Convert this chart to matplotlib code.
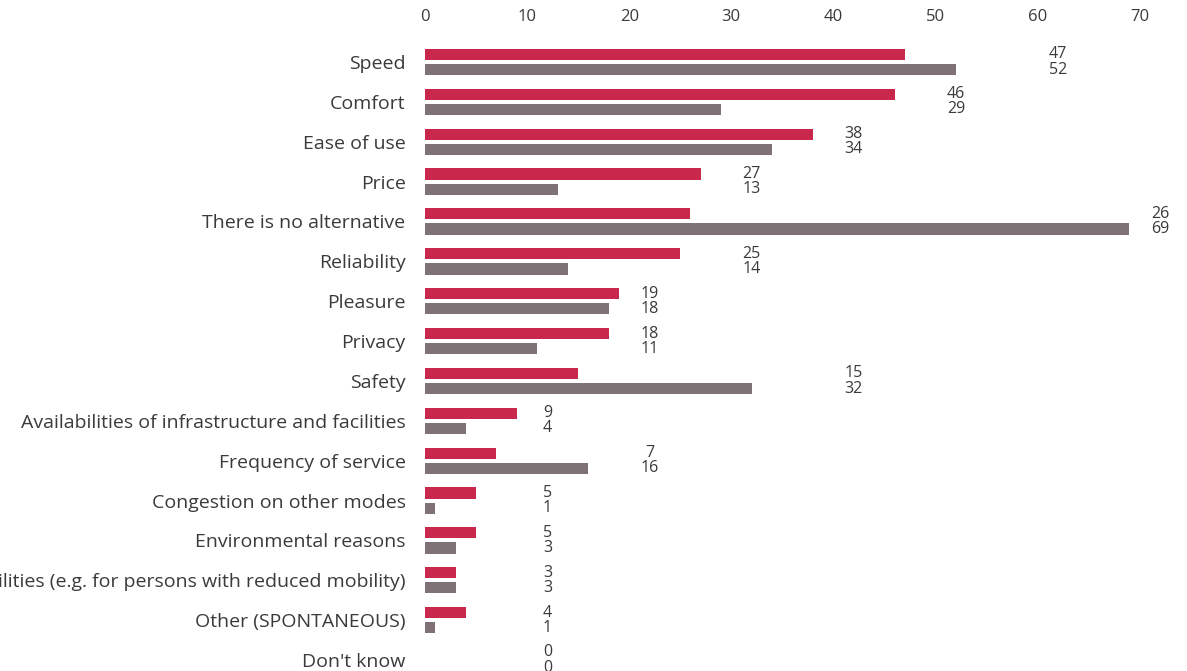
import numpy as np
import matplotlib.pyplot as plt

plt.rcParams['font.family'] = ['Open Sans', 'DejaVu Sans']

categories = [
    'Speed', 'Comfort', 'Ease of use', 'Price', 'There is no alternative',
    'Reliability', 'Pleasure', 'Privacy', 'Safety',
    'Availabilities of infrastructure and facilities', 'Frequency of service',
    'Congestion on other modes', 'Environmental reasons',
    'Accessibility of facilities (e.g. for persons with reduced mobility)',
    'Other (SPONTANEOUS)', "Don't know",
]
red_values = [47, 46, 38, 27, 26, 25, 19, 18, 15, 9, 7, 5, 5, 3, 4, 0]
gray_values = [52, 29, 34, 13, 69, 14, 18, 11, 32, 4, 16, 1, 3, 3, 1, 0]
ticks = [0, 10, 20, 30, 40, 50, 60, 70]

red = '#C9284C'
gray = '#7E7276'
text_color = '#3a3a3a'

fig = plt.figure(figsize=(11.87, 6.71), dpi=100)
ax = fig.add_axes([425 / 1187, 0, 1 - 425 / 1187, 1 - 40 / 671])

y = np.arange(len(categories))
h = 0.28
off = 0.19
ax.barh(y - off, red_values, height=h, color=red)
ax.barh(y + off, gray_values, height=h, color=gray)

# value labels sit at the next round ten + 2
for i, (r, g) in enumerate(zip(red_values, gray_values)):
    xpos = (max(r, g) // 10) * 10 + 12
    ax.text(xpos, i - off, str(r), ha='center', va='center',
            fontsize=11.5, color=text_color)
    ax.text(xpos, i + off, str(g), ha='center', va='center',
            fontsize=11.5, color=text_color)

ax.set_xlim(0, (1187 - 425) / 10.21)
ax.set_ylim((671 - 62) / 39.87, -(62 - 40) / 39.87)
ax.xaxis.tick_top()
ax.set_xticks(ticks)
ax.set_xticklabels([str(t) for t in ticks], fontsize=12, color=text_color)
ax.set_yticks(y)
ax.set_yticklabels(categories, fontsize=14, color=text_color)
ax.tick_params(axis='both', length=0)
ax.tick_params(axis='x', pad=11)
ax.tick_params(axis='y', pad=14)
for s in ax.spines.values():
    s.set_visible(False)

fig.savefig('out.png', dpi=100)
